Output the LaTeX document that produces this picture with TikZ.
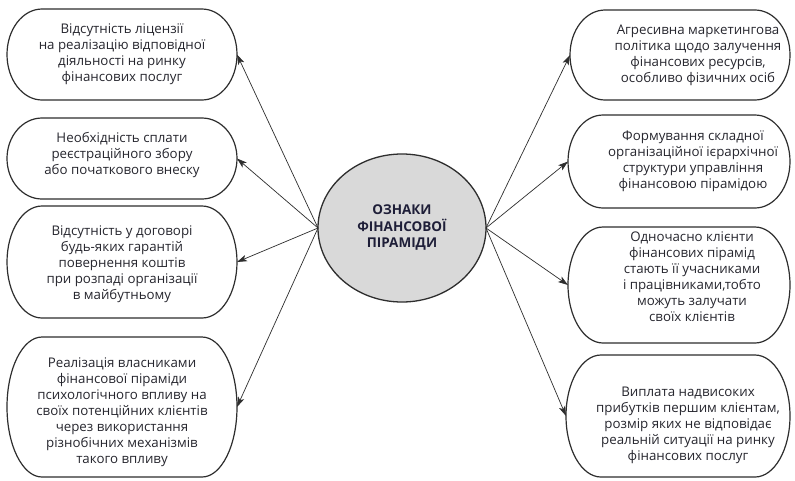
\documentclass[tikz,border=0pt]{standalone}
\usepackage{fontspec}
\setmainfont{Open Sans}
\usetikzlibrary{arrows.meta,shapes.geometric}
\definecolor{ink}{HTML}{26262E}
\definecolor{edge}{HTML}{2E2E2E}
\definecolor{core}{HTML}{D9D9D9}
\definecolor{navy}{HTML}{1E1E38}
% #1 horizontal shift, #2 vertical shift (up), #3 lines
\newcommand\btext[3]{\hspace*{#1}\raisebox{\dimexpr#2-3.4pt\relax}[0pt][0pt]{\begin{tabular}{@{}c@{}}#3\end{tabular}}\hspace*{-#1}}
% #1 node name, #2 end x radius, #3 half height
\newcommand\stadium[3]{\draw[boxline] ([xshift=#2]#1.north west) -- ([xshift=-#2]#1.north east)
  arc[start angle=90,end angle=-90,x radius=#2,y radius=#3]
  -- ([xshift=#2]#1.south west)
  arc[start angle=270,end angle=90,x radius=#2,y radius=#3] -- cycle;}
\begin{document}
\begin{tikzpicture}[x=1pt,y=-1pt,
  box/.style={rectangle,inner sep=0pt,outer sep=0pt,text=ink,font=\fontsize{13.3}{16}\selectfont},
  boxline/.style={draw=edge,line width=1.2pt},
  arr/.style={draw=edge,line width=0.7pt,-{Stealth[length=10pt,width=6.5pt,inset=2.5pt]}}]
\useasboundingbox (0,0) rectangle (795,480);
\fill[white] (0,0) rectangle (795,480);

% centre
\node[ellipse,draw=edge,line width=1.3pt,fill=core,minimum width=168pt,minimum height=148pt,
  inner sep=0pt,outer sep=0pt,text=navy,align=center,font=\bfseries\fontsize{13.5}{16.5}\selectfont]
  (C) at (402,228) {ОЗНАКИ\\ФІНАНСОВОЇ\\ПІРАМІДИ};

% left boxes
\node[box,minimum width=230pt,minimum height=91pt] (L1) at (122,54.5)
  {\btext{0pt}{0pt}{Відсутність ліцензії\\на реалізацію відповідної\\діяльності на ринку\\фінансових послуг}};
\stadium{L1}{35pt}{45.5pt}
\node[box,minimum width=230pt,minimum height=81pt] (L2) at (122,158.5)
  {\btext{0pt}{3.5pt}{Необхідність сплати\\реєстраційного збору\\або початкового внеску}};
\stadium{L2}{35pt}{40.5pt}
\node[box,minimum width=230pt,minimum height=112pt] (L3) at (122,262)
  {\btext{0pt}{-2.5pt}{Відсутність у договорі\\будь-яких гарантій\\повернення коштів\\при розпаді організації\\в майбутньому}};
\stadium{L3}{35pt}{56pt}
\node[box,minimum width=230pt,minimum height=140pt] (L4) at (122,407)
  {\btext{0pt}{-5pt}{Реалізація власниками\\фінансової піраміди\\психологічного впливу на\\своїх потенційних клієнтів\\через використання\\різнобічних механізмів\\такого впливу}};
\stadium{L4}{35pt}{70pt}

% right boxes
\node[box,minimum width=220pt,minimum height=90pt] (R1) at (680,55)
  {\btext{18pt}{0pt}{Агресивна маркетингова\\політика щодо залучення\\фінансових ресурсів,\\особливо фізичних осіб}};
\stadium{R1}{35pt}{45pt}
\node[box,minimum width=222pt,minimum height=93pt] (R2) at (679,161.5)
  {\btext{14pt}{0pt}{Формування складної\\організаційної ієрархічної\\структури управління\\фінансовою пірамідою}};
\stadium{R2}{35pt}{46.5pt}
\node[box,minimum width=222pt,minimum height=116pt] (R3) at (679,285)
  {\btext{13pt}{6.5pt}{Одночасно клієнти\\фінансових пірамід\\стають її учасниками\\і працівниками,тобто\\можуть залучати\\своїх клієнтів}};
\stadium{R3}{35pt}{58pt}
\node[box,minimum width=224pt,minimum height=122pt] (R4) at (678,416)
  {\btext{10pt}{-9pt}{Виплата надвисоких\\прибутків першим клієнтам,\\розмір яких не відповідає\\реальній ситуації на ринку\\фінансових послуг}};
\stadium{R4}{35pt}{61pt}

% connectors
\draw[arr] (C.west) -- (L1.east);
\draw[arr] (C.west) -- (L2.east);
\draw[arr] (C.west) -- (L3.east);
\draw[arr] (C.west) -- (L4.east);
\draw[arr] (C.east) -- (R1.west);
\draw[arr] (C.east) -- (R2.west);
\draw[arr] (C.east) -- (R3.west);
\draw[arr] (C.east) -- (R4.west);
\end{tikzpicture}
\end{document}
